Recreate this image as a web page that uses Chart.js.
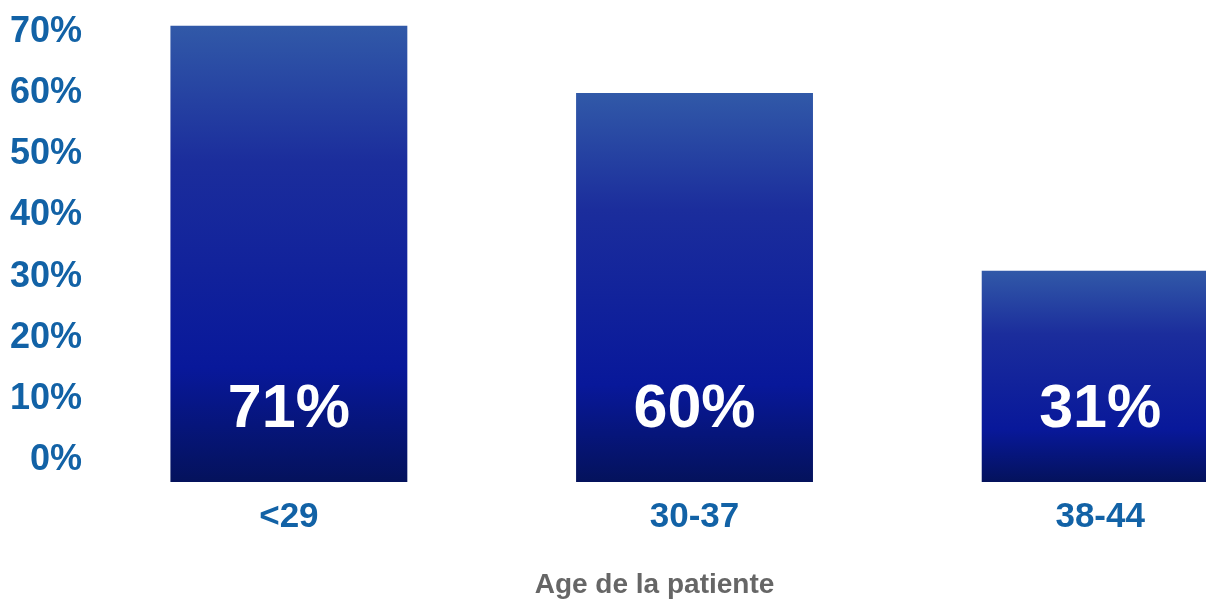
<!DOCTYPE html>
<html>
<head>
<meta charset="utf-8">
<script src="https://cdn.jsdelivr.net/npm/chart.js@4.4.0/dist/chart.umd.min.js"></script>
<style>
  html, body { margin: 0; padding: 0; background: #fff; overflow: hidden; }
  #wrap { width: 1310px; height: 599px; position: relative; }
</style>
</head>
<body>
<div id="wrap"><canvas id="chart"></canvas></div>
<script>
// Données du graphique
const categories = ['<29', '30-37', '38-44'];
const values = [71, 60, 31];
const valueLabels = ['71%', '60%', '31%'];
const yTicks = [0, 10, 20, 30, 40, 50, 60, 70];
const axisTitle = 'Age de la patiente';

const Y_MIN = -3.5;
const Y_MAX = 71.6;
const BLUE = '#1262a6';
const FONT = '"Liberation Sans", Arial, sans-serif';

// Dégradé vertical calculé pour chaque barre
const barGradient = (ctx) => {
    const chart = ctx.chart;
    const y = chart.scales.y;
    if (!y || ctx.raw === undefined) return '#0a1a9a';
    const top = y.getPixelForValue(ctx.raw);
    const bottom = y.getPixelForValue(Y_MIN);
    if (!isFinite(top) || !isFinite(bottom) || top === bottom) return '#0a1a9a';
    const g = chart.ctx.createLinearGradient(0, top, 0, bottom);
    g.addColorStop(0, '#3159a8');
    g.addColorStop(0.3, '#1b2d9c');
    g.addColorStop(0.75, '#08189a');
    g.addColorStop(1, '#04125c');
    return g;
};

// Étiquettes blanches à l'intérieur des barres
const insideLabels = {
    id: 'insideLabels',
    afterDatasetsDraw(chart) {
        const ctx = chart.ctx;
        const meta = chart.getDatasetMeta(0);
        ctx.save();
        ctx.fillStyle = '#ffffff';
        ctx.font = 'bold 61px ' + FONT;
        ctx.textAlign = 'center';
        ctx.textBaseline = 'middle';
        meta.data.forEach((bar, i) => {
            ctx.fillText(valueLabels[i], bar.x, bar.base - 72);
        });
        ctx.restore();
    }
};

new Chart(document.getElementById('chart'), {
    type: 'bar',
    data: {
        labels: categories,
        datasets: [{
            data: values,
            base: Y_MIN,
            backgroundColor: barGradient,
            borderWidth: 0,
            barPercentage: 0.584,
            categoryPercentage: 1
        }]
    },
    options: {
        responsive: true,
        maintainAspectRatio: false,
        animation: false,
        layout: { padding: { left: 6, right: 7, top: 4, bottom: 0 } },
        plugins: {
            legend: { display: false },
            tooltip: { enabled: false },
            title: {
                display: true,
                position: 'bottom',
                text: axisTitle,
                color: '#666666',
                font: { family: FONT, size: 28, weight: 'bold', lineHeight: 1 },
                padding: { top: 19, bottom: 0 }
            }
        },
        scales: {
            x: {
                grid: { display: false, drawTicks: false },
                border: { display: false },
                ticks: {
                    color: BLUE,
                    padding: 14,
                    font: { family: FONT, size: 35, weight: 'bold' }
                }
            },
            y: {
                min: Y_MIN,
                max: Y_MAX,
                afterBuildTicks: (scale) => {
                    scale.ticks = yTicks.map(v => ({ value: v }));
                },
                grid: { display: false, drawTicks: false },
                border: { display: false },
                ticks: {
                    color: BLUE,
                    padding: 4,
                    font: { family: FONT, size: 36, weight: 'bold', lineHeight: 1 },
                    callback: (v) => v + '%'
                }
            }
        }
    },
    plugins: [insideLabels]
});
</script>
</body>
</html>
